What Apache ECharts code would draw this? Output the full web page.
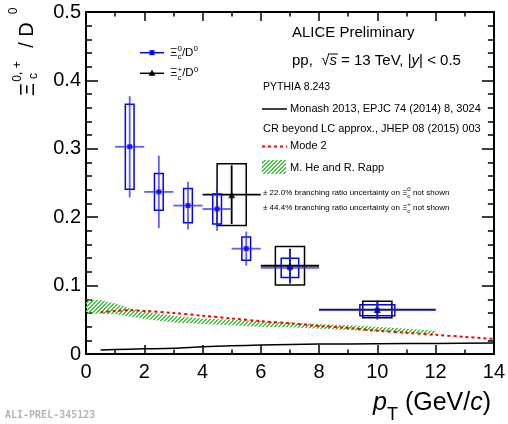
<!DOCTYPE html>
<html><head><meta charset="utf-8">
<script src="https://cdn.jsdelivr.net/npm/echarts@6/dist/echarts.min.js"></script>
<style>html,body{margin:0;padding:0;background:#fff}#c{width:508px;height:424px}</style>
</head><body><div id="c"></div>
<script>
// ---------------- data ----------------
const xTickLabels = ['0','2','4','6','8','10','12','14'];
const yTickLabels = ['0','0.1','0.2','0.3','0.4','0.5'];

const xi0BinLo = [1, 2, 3, 4, 5, 6, 8];
const xi0BinHi = [2, 3, 4, 5, 6, 8, 12];
const xi0Val   = [0.303, 0.237, 0.217, 0.212, 0.154, 0.126, 0.064];
const xi0Stat  = [0.074, 0.053, 0.035, 0.032, 0.025, 0.026, 0.014];
const xi0Syst  = [0.062, 0.027, 0.025, 0.022, 0.017, 0.014, 0.008];

const xipBinLo = [4, 6, 8];
const xipBinHi = [6, 8, 12];
const xipVal   = [0.233, 0.129, 0.065];
const xipStat  = [0.043, 0.025, 0.013];
const xipSyst  = [0.045, 0.028, 0.012];

const monashPt  = [0.5, 1, 2, 3, 4, 5, 6, 7, 8, 10, 12, 14];
const monashVal = [0.006, 0.0065, 0.0075, 0.0085, 0.0105, 0.012, 0.013, 0.014, 0.0145, 0.015, 0.0155, 0.016];

const mode2Pt  = [0.5, 1, 1.5, 2, 3, 4, 5, 6, 7, 8, 9, 10, 11, 12, 13, 14];
const mode2Val = [0.061, 0.063, 0.064, 0.063, 0.060, 0.056, 0.052, 0.048, 0.045, 0.041, 0.038, 0.034, 0.031, 0.028, 0.025, 0.022];

const heRappPt = [0, 0.5, 1, 1.5, 2, 3, 4, 5, 6, 7, 8, 9, 10, 11, 12];
const heRappHi = [0.080, 0.079, 0.074, 0.067, 0.062, 0.056, 0.052, 0.050, 0.048, 0.046, 0.044, 0.042, 0.040, 0.037, 0.034];
const heRappLo = [0.059, 0.059, 0.058, 0.055, 0.051, 0.046, 0.044, 0.042, 0.040, 0.039, 0.037, 0.035, 0.033, 0.031, 0.029];

// ---------------- helpers ----------------
const FF = '"Liberation Sans", Arial, Helvetica, sans-serif';
const mctx = document.createElement('canvas').getContext('2d');
function fontStr(size, it, bold){ return (it?'italic ':'') + (bold?'bold ':'') + size + 'px ' + FF; }
function tw(t, size, it){ mctx.font = fontStr(size, it); return mctx.measureText(t).width; }
function txt(x, y, t, size, opt){
  opt = opt || {};
  return {type:'text', x:x, y:y, rotation: opt.rot || 0, silent:true, z:100,
    style:{text:t, font: opt.font || fontStr(size, opt.it), fill: opt.color || '#000',
      align: opt.align || 'left', verticalAlign:'middle', textAlign: opt.align || 'left', textVerticalAlign:'middle'}};
}
function seq(x, y, parts, align){
  const widths = parts.map(p => p.stack ? Math.max(tw(p.sup, p.size), tw(p.sub, p.size)) : tw(p.t, p.size, p.it));
  const total = widths.reduce((a,b)=>a+b, 0);
  let cx = align === 'right' ? x - total : x;
  const els = [];
  parts.forEach((p, i) => {
    if (p.stack) {
      els.push(txt(cx, y + p.supDy, p.sup, p.size));
      els.push(txt(cx, y + p.subDy, p.sub, p.size));
    } else {
      els.push(txt(cx, y + (p.dy || 0), p.t, p.size, {it: p.it}));
    }
    p._x = cx; p._w = widths[i];
    cx += widths[i];
  });
  return els;
}

// hatch pattern
const pc = document.createElement('canvas'); pc.width = 4; pc.height = 4;
const pg = pc.getContext('2d'); const im = pg.createImageData(4, 4);
for (let yy = 0; yy < 4; yy++) for (let xx = 0; xx < 4; xx++) {
  const k = (yy*4+xx)*4;
  if ((xx + yy) % 4 < 2) { im.data[k]=70; im.data[k+1]=200; im.data[k+2]=70; im.data[k+3]=255; }
}
pg.putImageData(im, 0, 0);
const hatch = {type:'pattern', image: pc, repeat:'repeat'};

function errRender(lo, hi, val, stat, syst, halfW, boxColor, lineColor){
  return function(params, api){
    const i = params.dataIndex;
    const c = (lo[i] + hi[i]) / 2;
    const hw = halfW(i);
    const pL = api.coord([lo[i], val[i]]), pR = api.coord([hi[i], val[i]]);
    const pT = api.coord([c, val[i] + stat[i]]), pB = api.coord([c, val[i] - stat[i]]);
    const b1 = api.coord([c - hw, val[i] + syst[i]]), b2 = api.coord([c + hw, val[i] - syst[i]]);
    return {type:'group', children:[
      {type:'rect', shape:{x:b1[0], y:b1[1], width:b2[0]-b1[0], height:b2[1]-b1[1]}, style:{fill:'none', stroke:boxColor, lineWidth:1.5}},
      {type:'line', shape:{x1:pL[0], y1:pL[1], x2:pR[0], y2:pR[1]}, style:{stroke:lineColor, lineWidth:1.8}},
      {type:'line', shape:{x1:pT[0], y1:pT[1], x2:pB[0], y2:pB[1]}, style:{stroke:lineColor, lineWidth:1.8}}
    ]};
  };
}

const xi0Pts = xi0Val.map((v,i)=>[(xi0BinLo[i]+xi0BinHi[i])/2, v]);
const xipPts = xipVal.map((v,i)=>[(xipBinLo[i]+xipBinHi[i])/2, v]);

// ---------------- graphics (texts, legend) ----------------
const G = [];
// y-axis title (rotated)
const R = Math.PI/2;
G.push(txt(28, 89.5, 'Ξ', 20, {rot:R, align:'center'}));
G.push(txt(17.5, 71.5, '0, +', 12, {rot:R, align:'center'}));
G.push(txt(34, 76, 'c', 12, {rot:R, align:'center'}));
G.push(txt(27.5, 45, '/', 20, {rot:R, align:'center'}));
G.push(txt(27.5, 29.5, 'D', 20, {rot:R, align:'center'}));
G.push(txt(14, 11, '0', 12, {rot:R, align:'center'}));

// x-axis title
G.push(...seq(491, 403, [
  {t:'p', size:25, it:true}, {t:'T', size:18, dy:12}, {t:' (GeV/', size:25}, {t:'c', size:25, it:true}, {t:')', size:25}
], 'right'));

// ALICE texts
G.push(txt(292, 33, 'ALICE Preliminary', 15));
const ppParts = [{t:'pp,  √', size:15}, {t:'s', size:15, it:true}, {t:' = 13 TeV, |', size:15}, {t:'y', size:15, it:true}, {t:'| < 0.5', size:15}];
G.push(...seq(292, 61, ppParts));
G.push({type:'line', shape:{x1:ppParts[1]._x, y1:54, x2:ppParts[1]._x+ppParts[1]._w+1, y2:54}, style:{stroke:'#000', lineWidth:1}});

G.push(txt(263, 87, 'PYTHIA 8.243', 10.5));
G.push({type:'line', shape:{x1:262, y1:109, x2:287, y2:109}, style:{stroke:'#000', lineWidth:1.5}});
G.push(txt(290, 109, 'Monash 2013, EPJC 74 (2014) 8, 3024', 11));
G.push(txt(263, 129, 'CR beyond LC approx., JHEP 08 (2015) 003', 11));
G.push({type:'line', shape:{x1:262, y1:146.5, x2:287, y2:146.5}, style:{stroke:'#ff0000', lineWidth:2, lineDash:[3,3]}});
G.push(txt(290, 146, 'Mode 2', 11));
G.push({type:'rect', shape:{x:262, y:160, width:24, height:14}, style:{fill:hatch}});
G.push(txt(290, 168, 'M. He and R. Rapp', 11));
G.push(...seq(263, 192.5, [{t:'± 22.0% branching ratio uncertainty on Ξ', size:8}, {stack:true, sup:'0', sub:'c', size:6, supDy:-3.5, subDy:3.5}, {t:' not shown', size:8}]));
G.push(...seq(263, 207.5, [{t:'± 44.4% branching ratio uncertainty on Ξ', size:8}, {stack:true, sup:'+', sub:'c', size:6, supDy:-3.5, subDy:3.5}, {t:' not shown', size:8}]));

// legend
G.push({type:'line', shape:{x1:140, y1:52.7, x2:164, y2:52.7}, style:{stroke:'#0000ff', lineWidth:1.5}});
G.push({type:'rect', shape:{x:149.5, y:50.2, width:5, height:5}, style:{fill:'#0000ff'}});
G.push(...seq(170, 52.7, [{t:'Ξ', size:11.5}, {stack:true, sup:'0', sub:'c', size:8, supDy:-4, subDy:4}, {t:'/D', size:11.5}, {t:'0', size:8, dy:-4}]));
G.push({type:'line', shape:{x1:140, y1:73.3, x2:164, y2:73.3}, style:{stroke:'#000', lineWidth:1.5}});
G.push({type:'polygon', shape:{points:[[152,69.8],[155.5,75.8],[148.5,75.8]]}, style:{fill:'#000'}});
G.push(...seq(170, 73.3, [{t:'Ξ', size:11.5}, {stack:true, sup:'+', sub:'c', size:8, supDy:-4, subDy:4}, {t:'/D', size:11.5}, {t:'0', size:8, dy:-4}]));

// watermark
G.push(txt(5, 415.5, 'ALI-PREL-345123', 10, {font:'bold 10px "DejaVu Sans Mono", "Liberation Mono", monospace', color:'#b4b4b4'}));

// ---------------- axes ----------------
const xMin = +xTickLabels[0], xMax = +xTickLabels[xTickLabels.length-1], xStep = +xTickLabels[1] - +xTickLabels[0];
const yMin = +yTickLabels[0], yMax = +yTickLabels[yTickLabels.length-1], yStep = +yTickLabels[1] - +yTickLabels[0];
const axLine = {show:true, onZero:false, lineStyle:{color:'#000', width:2}};
function xAx(pos, lab){ return {type:'value', position:pos, min:xMin, max:xMax, interval:xStep,
  axisLine:axLine, axisTick:{inside:true, length:9, lineStyle:{color:'#000', width:1.5}},
  minorTick:{show:true, splitNumber:2, length:4.5, lineStyle:{color:'#000', width:1.5}},
  axisLabel:{show:lab, fontSize:20, color:'#000', margin:8, fontFamily:FF,
    formatter: v => xTickLabels[Math.round((v - xMin)/xStep)]},
  splitLine:{show:false}}; }
function yAx(pos, lab){ return {type:'value', position:pos, min:yMin, max:yMax, interval:yStep,
  axisLine:axLine, axisTick:{inside:true, length:12, lineStyle:{color:'#000', width:1.5}},
  minorTick:{show:true, splitNumber:5, length:6, lineStyle:{color:'#000', width:1.5}},
  axisLabel:{show:lab, fontSize:20, color:'#000', margin:5, fontFamily:FF,
    formatter: v => yTickLabels[Math.round((v - yMin)/yStep)]},
  splitLine:{show:false}}; }

const chart = echarts.init(document.getElementById('c'), null, {renderer:'canvas'});
chart.setOption({
  animation:false,
  backgroundColor:'#fff',
  grid:{left:86, right:14, top:12, bottom:70},
  xAxis:[xAx('bottom', true), xAx('top', false)],
  yAxis:[yAx('left', true), yAx('right', false)],
  graphic: G,
  series:[
    {type:'custom', name:'He-Rapp', data:[[0,0]], z:1, silent:true,
      renderItem:function(params, api){
        if (params.dataIndex !== 0) return null;
        const pts = [];
        heRappPt.forEach((x,i)=>pts.push(api.coord([x, heRappHi[i]])));
        for (let i = heRappPt.length-1; i >= 0; i--) pts.push(api.coord([heRappPt[i], heRappLo[i]]));
        return {type:'polygon', shape:{points:pts}, style:{fill:hatch, stroke:'none'}};
      }},
    {type:'line', name:'Monash', data:monashPt.map((x,i)=>[x, monashVal[i]]), showSymbol:false, smooth:0.3,
      lineStyle:{color:'#000', width:1.5}, z:2, silent:true},
    {type:'line', name:'Mode 2', data:mode2Pt.map((x,i)=>[x, mode2Val[i]]), showSymbol:false, smooth:0.3,
      lineStyle:{color:'#ff0000', width:2, type:[3,3]}, z:2, silent:true},
    {type:'custom', name:'Xi+ err', data:xipPts, z:3, silent:true,
      renderItem: errRender(xipBinLo, xipBinHi, xipVal, xipStat, xipSyst, i => 0.5, '#000', '#000')},
    {type:'custom', name:'Xi0 err', data:xi0Pts, z:4, silent:true,
      renderItem: errRender(xi0BinLo, xi0BinHi, xi0Val, xi0Stat, xi0Syst, i => 0.15*(xi0BinHi[i]-xi0BinLo[i]), '#0000ff', 'rgba(40,40,255,0.75)')},
    {type:'scatter', name:'Xi+', data:xipPts, symbol:'triangle', symbolSize:7, itemStyle:{color:'#000'}, z:5, silent:true},
    {type:'scatter', name:'Xi0', data:xi0Pts, symbol:'rect', symbolSize:5, itemStyle:{color:'#0000ff'}, z:6, silent:true}
  ]
});
</script>
</body></html>
